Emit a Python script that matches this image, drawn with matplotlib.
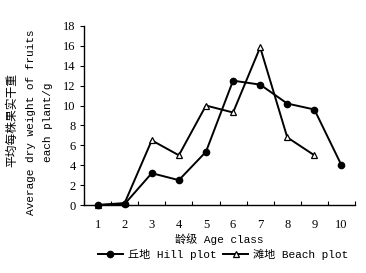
import matplotlib
matplotlib.use("Agg")
from matplotlib import pyplot as plt

# age classes and mean dry weight of fruits per plant (g)
ages = [1, 2, 3, 4, 5, 6, 7, 8, 9, 10]
hill = [0.0, 0.1, 3.2, 2.5, 5.35, 12.5, 12.1, 10.2, 9.6, 4.0]
beach_ages = [1, 2, 3, 4, 5, 6, 7, 8, 9]
beach = [0.0, 0.2, 6.5, 5.0, 10.0, 9.3, 15.85, 6.8, 5.0]
yticks = [0, 2, 4, 6, 8, 10, 12, 14, 16, 18]

lab_font = ['Liberation Mono', 'Noto Sans CJK SC']
num_font = 'Liberation Serif'

fig = plt.figure(figsize=(3.66, 2.73), dpi=100)
ax = fig.add_axes([0.2295, 0.249, 0.7405, 0.656])

lb, = ax.plot(beach_ages, beach, 'k-', lw=1.4, marker='^', ms=4.5,
              mfc='white', mec='black', mew=0.9, clip_on=False, zorder=3)
lh, = ax.plot(ages, hill, 'k-', lw=1.4, marker='o', ms=4.5,
              mfc='black', mec='black', clip_on=False, zorder=4)

ax.set_xlim(0.5, 10.5)
ax.set_ylim(0, 18)
ax.set_yticks(yticks)
ax.set_yticklabels([str(v) for v in yticks], family=num_font, fontsize=9)
ax.set_xticks(ages)
ax.set_xticklabels([str(a) for a in ages], family=num_font, fontsize=9)
ax.set_xticks([a + 0.5 for a in range(0, 11)], minor=True)
ax.tick_params(axis='x', which='major', length=0, pad=10)
ax.tick_params(axis='x', which='minor', direction='in', length=3, width=0.8)
ax.tick_params(axis='y', direction='out', length=3, width=0.8, pad=3)

for s in ['top', 'right']:
    ax.spines[s].set_visible(False)
for s in ['left', 'bottom']:
    ax.spines[s].set_linewidth(1.0)

ax.set_xlabel('龄级 Age class', family=lab_font, fontsize=8, labelpad=2)

fig.text(0.034, 0.56, '平均每株果实干重', family=lab_font, fontsize=8.5,
         rotation=90, ha='center', va='center')
fig.text(0.085, 0.553, 'Average dry weight of fruits', family=lab_font,
         fontsize=8, rotation=90, ha='center', va='center')
fig.text(0.131, 0.553, 'each plant/g', family=lab_font, fontsize=8,
         rotation=90, ha='center', va='center')

fig.legend([lh, lb], ['丘地 Hill plot', '滩地 Beach plot'], ncol=2,
           loc='center', bbox_to_anchor=(0.61, 0.07), frameon=False,
           prop={'family': lab_font, 'size': 8}, handlelength=2.2,
           handletextpad=0.5, columnspacing=0.6, borderpad=0)

fig.savefig('out.png', dpi=100)
